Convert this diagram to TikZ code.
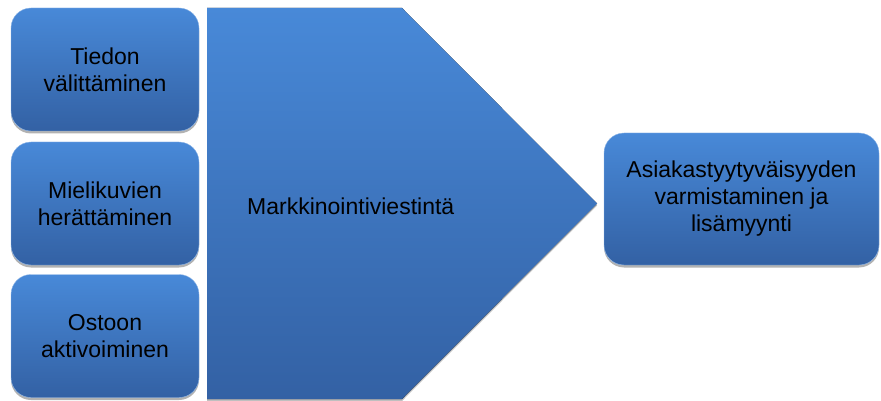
\documentclass[tikz,border=0pt]{standalone}
\usepackage{fontspec}
\setmainfont{Liberation Sans}
\usetikzlibrary{shadows}
\definecolor{topblue}{RGB}{72,137,216}
\definecolor{botblue}{RGB}{51,97,164}
\begin{document}
\begin{tikzpicture}[x=1pt,y=-1pt,
  lbl/.style={font=\fontsize{23}{27}\selectfont, text=black, align=center},
  box/.style={lbl, rounded corners=20pt, top color=topblue, bottom color=botblue,
    draw=topblue!60!white, line width=0.4pt, inner sep=0pt,
    drop shadow={shadow xshift=0pt, shadow yshift=-2.5pt, opacity=0.3, fill=black}},
]
\useasboundingbox (0,0) rectangle (881,401);
\node[box, minimum width=188pt, minimum height=123pt] (b1) at (105,69.5) {Tiedon\\välittäminen};
\node[box, minimum width=188pt, minimum height=123pt] (b2) at (105,203.5) {Mielikuvien\\herättäminen};
\node[box, minimum width=188pt, minimum height=123pt] (b3) at (105,336) {Ostoon\\aktivoiminen};
\fill[top color=topblue, bottom color=botblue, drop shadow={shadow xshift=0pt, shadow yshift=-2pt, opacity=0.25, fill=black}]
  (207,8) -- (402,8) -- (597,203.5) -- (402,399) -- (207,399) -- cycle;
\node[lbl, anchor=west, inner sep=0pt] (m) at (247,206) {Markkinointiviestintä};
\node[box, minimum width=275pt, minimum height=132pt] (r) at (741.5,199) {Asiakastyytyväisyyden\\varmistaminen ja\\lisämyynti};
\end{tikzpicture}
\end{document}
